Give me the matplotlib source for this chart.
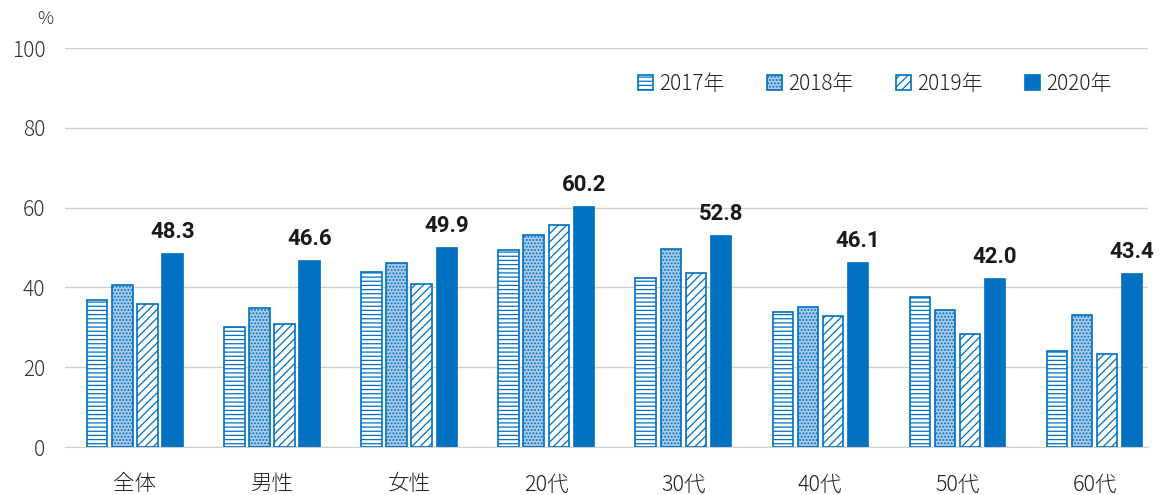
import matplotlib
matplotlib.use("Agg")
import matplotlib.pyplot as plt
import numpy as np

plt.rcParams['font.family'] = ['Noto Sans CJK JP', 'DejaVu Sans']
plt.rcParams['hatch.linewidth'] = 0.9

categories = ['全体', '男性', '女性', '20代', '30代', '40代', '50代', '60代']
series_names = ['2017年', '2018年', '2019年', '2020年']
v2017 = [36.8, 30.1, 43.9, 49.4, 42.4, 33.8, 37.6, 24.1]
v2018 = [40.6, 34.8, 46.1, 53.1, 49.6, 35.1, 34.3, 33.1]
v2019 = [35.8, 30.8, 40.9, 55.6, 43.6, 32.8, 28.3, 23.3]
v2020 = [48.3, 46.6, 49.9, 60.2, 52.8, 46.1, 42.0, 43.4]
yticks = [0, 20, 40, 60, 80, 100]

blue = '#0070C0'
fig = plt.figure(figsize=(11.61, 4.95), dpi=100)
ax = fig.add_axes([65/1161, 48/495, (1148-65)/1161, (447-48)/495])

x = np.arange(len(categories))
w = 0.148
step = 0.183
styles = [
    dict(facecolor='white', edgecolor=blue, hatch='----'),
    dict(facecolor='#A9CBEA', edgecolor=blue, hatch='.....'),
    dict(facecolor='white', edgecolor=blue, hatch='////'),
    dict(facecolor=blue, edgecolor=blue, hatch=None),
]
allv = [v2017, v2018, v2019, v2020]
for i, (vals, st, name) in enumerate(zip(allv, styles, series_names)):
    ax.bar(x + (i - 1.5) * step, vals, width=w, label=name,
           linewidth=1.2, zorder=3, **st)
for xi, v in zip(x, v2020):
    ax.text(xi + 1.5 * step, v + 2.8, f'{v:.1f}', ha='center', va='bottom',
            fontsize=16, fontweight='bold', family='Roboto', color='#1a1a1a')

ax.set_xlim(-0.51, 7.39)
ax.set_ylim(0, 100)
ax.set_yticks(yticks)
ax.set_yticklabels([str(t) for t in yticks], fontsize=15, color='#333333', fontweight='light')
ax.set_xticks(x)
ax.set_xticklabels(categories, fontsize=15.5, color='#222222', fontweight='light')
ax.yaxis.grid(True, color='#D0D0D0', linewidth=1.0, zorder=0)
ax.set_axisbelow(True)
for s in ['top', 'right', 'left']:
    ax.spines[s].set_visible(False)
ax.spines['bottom'].set_color('#D0D0D0')
ax.tick_params(axis='y', length=0, pad=14)
ax.tick_params(axis='x', length=0, pad=19)
ax.text(-0.018, 1.06, '%', transform=ax.transAxes, fontsize=13, color='#333333',
        ha='center', fontweight='light')

leg = ax.legend(loc='upper right', bbox_to_anchor=(0.984, 0.985), ncol=4, frameon=False,
                fontsize=15, handlelength=0.75, handleheight=0.75, columnspacing=2.0,
                handletextpad=0.3)
for t in leg.get_texts():
    t.set_fontweight('light')
    t.set_color('#222222')

fig.savefig('out.png', dpi=100)
